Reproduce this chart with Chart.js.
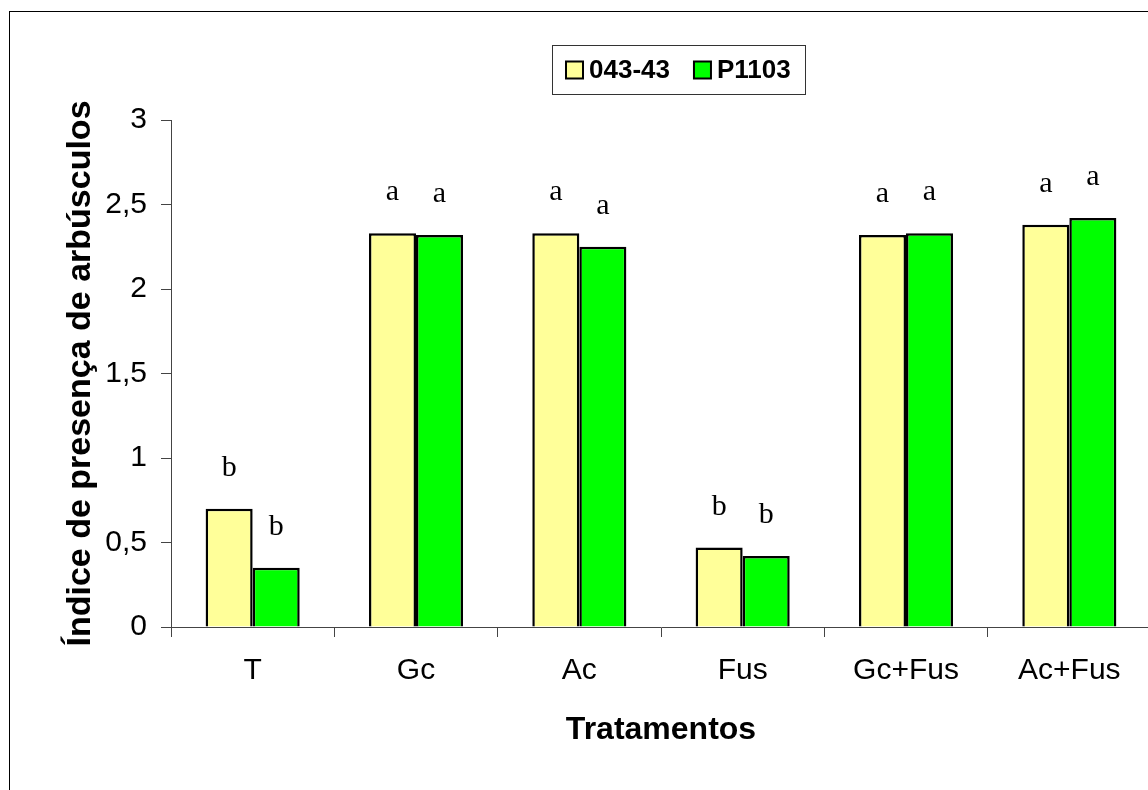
<!DOCTYPE html>
<html><head><meta charset="utf-8">
<script src="https://cdn.jsdelivr.net/npm/chart.js@4/dist/chart.umd.min.js"></script>
<style>
html,body{margin:0;padding:0;background:#fff;overflow:hidden;width:1148px;height:790px;position:relative;}
#frame{position:absolute;left:9px;top:11px;width:1340px;height:800px;border:1px solid #000;}
canvas{display:block;}
</style></head><body>
<div id="frame"><canvas id="c" width="1340" height="800"></canvas></div>
<script>
const categories = ['T', 'Gc', 'Ac', 'Fus', 'Gc+Fus', 'Ac+Fus'];
const seriesNames = ['043-43', 'P1103'];
const values043 = [0.70, 2.33, 2.33, 0.47, 2.32, 2.38];
const valuesP1103 = [0.35, 2.32, 2.25, 0.42, 2.33, 2.42];
const letters043 = ['b', 'a', 'a', 'b', 'a', 'a'];
const lettersP1103 = ['b', 'a', 'a', 'b', 'a', 'a'];
const yTicks = [0, 0.5, 1, 1.5, 2, 2.5, 3];
const xTitle = 'Tratamentos';
const yTitle = 'Índice de presença de arbúsculos';

const SANS = "'Liberation Sans', Arial, sans-serif";
const SERIF = "'Liberation Serif', 'Times New Roman', serif";
const seriesLetters = [letters043, lettersP1103];

const lettersPlugin = {
  id: 'letters',
  afterDatasetsDraw(chart) {
    const ctx = chart.ctx;
    ctx.save();
    ctx.font = '30px ' + SERIF;
    ctx.fillStyle = '#000';
    ctx.textAlign = 'center';
    ctx.textBaseline = 'alphabetic';
    chart.data.datasets.forEach((ds, i) => {
      const meta = chart.getDatasetMeta(i);
      meta.data.forEach((bar, j) => {
        ctx.fillText(seriesLetters[i][j], bar.x, bar.y - 33);
      });
    });
    ctx.restore();
  }
};

const legendPlugin = {
  id: 'boxLegend',
  afterDraw(chart) {
    const ctx = chart.ctx;
    ctx.save();
    ctx.font = 'bold 26px ' + SANS;
    const sw = 17, gapSwText = 6, gapItems = 24, padX = 14;
    const items = chart.data.datasets.map(ds => ({label: ds.label, color: ds.backgroundColor, w: ctx.measureText(ds.label).width}));
    let total = padX * 2;
    items.forEach((it, k) => { total += sw + gapSwText + it.w + (k < items.length - 1 ? gapItems : 0); });
    const cx = 668.5, top = 33, h = 49;
    const left = Math.round(cx - total / 2);
    ctx.strokeStyle = '#333';
    ctx.lineWidth = 1;
    ctx.strokeRect(left + 0.5, top + 0.5, Math.round(total), h);
    let x = left + padX;
    const midY = top + h / 2 + 0.5;
    items.forEach(it => {
      ctx.fillStyle = it.color;
      ctx.fillRect(x, midY - sw / 2, sw, sw);
      ctx.strokeStyle = '#000';
      ctx.lineWidth = 2;
      ctx.strokeRect(x, midY - sw / 2, sw, sw);
      x += sw + gapSwText;
      ctx.fillStyle = '#000';
      ctx.textAlign = 'left';
      ctx.textBaseline = 'middle';
      ctx.fillText(it.label, x, midY + 1);
      x += it.w + gapItems;
    });
    ctx.restore();
  }
};

new Chart(document.getElementById('c'), {
  type: 'bar',
  data: {
    labels: categories,
    datasets: [
      {label: seriesNames[0], data: values043, backgroundColor: '#FFFF99', borderColor: '#000', borderWidth: 2.5},
      {label: seriesNames[1], data: valuesP1103, backgroundColor: '#00FF00', borderColor: '#000', borderWidth: 2.5}
    ]
  },
  options: {
    responsive: false,
    devicePixelRatio: 1,
    animation: false,
    events: [],
    layout: {padding: {left: 0, right: 199, top: 108, bottom: 55}},
    datasets: {bar: {categoryPercentage: 0.576, barPercentage: 1}},
    plugins: {legend: {display: false}, tooltip: {enabled: false}, title: {display: false}},
    scales: {
      x: {
        offset: true,
        grid: {display: true, drawOnChartArea: false, drawTicks: true, tickLength: 10, offset: true, color: '#444'},
        border: {display: true, color: '#444', width: 1},
        ticks: {color: '#000', font: {family: SANS, size: 30}, padding: 16, maxRotation: 0},
        title: {display: true, text: xTitle, color: '#000', font: {family: SANS, size: 32, weight: 'bold'}, padding: {top: 0, bottom: 8}},
        afterFit(s) { s.height = 130; }
      },
      y: {
        min: 0, max: 3,
        afterBuildTicks(s) { s.ticks = yTicks.map(v => ({value: v})); },
        grid: {display: true, drawOnChartArea: false, drawTicks: true, tickLength: 10, color: '#444'},
        border: {display: true, color: '#444', width: 1},
        ticks: {color: '#000', font: {family: SANS, size: 30}, padding: 14, callback: v => String(v).replace('.', ',')},
        title: {display: true, text: yTitle, color: '#000', font: {family: SANS, size: 34, weight: 'bold'}, padding: {top: 50, bottom: 0}},
        afterFit(s) { s.width = 161; }
      }
    }
  },
  plugins: [lettersPlugin, legendPlugin]
});
</script>
</body></html>
